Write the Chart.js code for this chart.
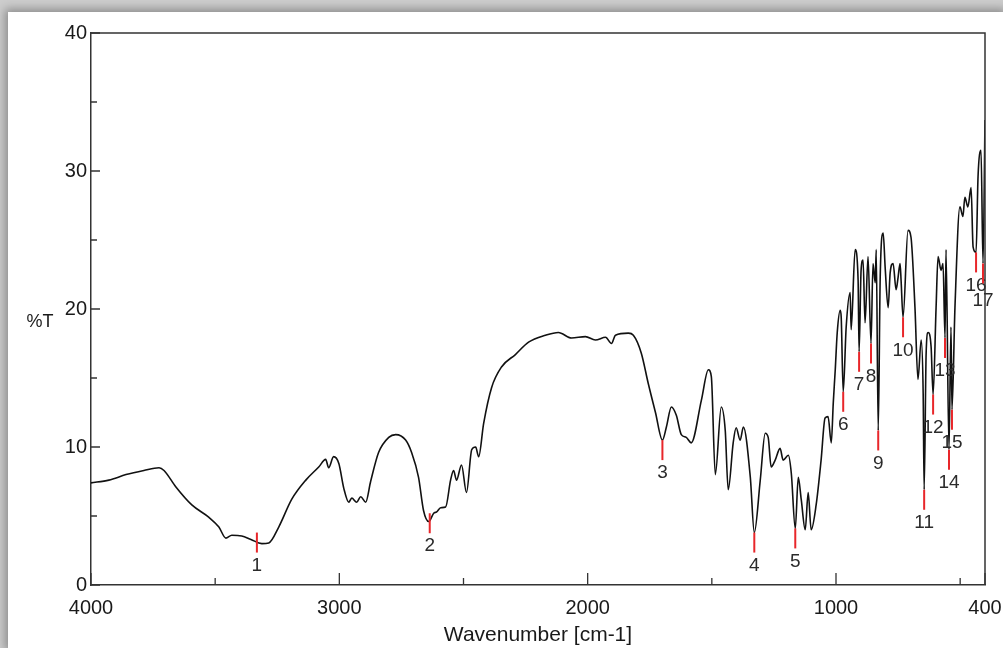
<!DOCTYPE html>
<html>
<head>
<meta charset="utf-8">
<title>IR spectrum</title>
<script src="https://cdn.jsdelivr.net/npm/chart.js@4.4.1/dist/chart.umd.min.js"></script>
<style>
  html, body { margin: 0; padding: 0; width: 1003px; height: 648px; overflow: hidden; background: #cdcdcd; }
  #panel { position: absolute; left: 8px; top: 12px; width: 995px; height: 636px; background: #fff; box-shadow: 0 0 9px 3px rgba(0, 0, 0, 0.32); }
  #wrap { position: absolute; left: 0; top: 0; width: 1003px; height: 648px; }
</style>
</head>
<body>
<div id="panel"></div>
<div id="wrap"><canvas id="irChart" width="1003" height="648"></canvas></div>
<script>
// spectrum (wavenumber in cm-1, %T)
const wavenumber = [
  4000, 3928, 3859, 3787, 3726, 3706, 3658, 3594, 3525, 3485, 3457, 3433, 3393, 3356, 3312, 3284,
  3244, 3192, 3135, 3083, 3055, 3043, 3023, 3002, 2982, 2962, 2950, 2930, 2914, 2894, 2874, 2842,
  2801, 2773, 2733, 2709, 2681, 2661, 2640, 2620, 2608, 2592, 2572, 2552, 2540, 2528, 2508, 2488,
  2467, 2451, 2439, 2419, 2387, 2347, 2291, 2238, 2170, 2118, 2065, 2009, 1969, 1928, 1904, 1888,
  1836, 1816, 1784, 1756, 1727, 1699, 1683, 1663, 1643, 1623, 1603, 1583, 1542, 1514, 1502, 1486,
  1462, 1446, 1434, 1414, 1402, 1386, 1373, 1345, 1329, 1305, 1285, 1273, 1261, 1245, 1225, 1213,
  1192, 1180, 1164, 1152, 1140, 1124, 1112, 1100, 1080, 1060, 1044, 1032, 1019, 1011, 1003, 995,
  983, 979, 971, 959, 943, 939, 923, 911, 907, 899, 891, 883, 871, 859, 851, 842,
  838, 830, 822, 810, 802, 790, 782, 770, 758, 750, 742, 738, 730, 710, 698, 682,
  670, 657, 649, 645, 637, 629, 617, 609, 597, 589, 577, 569, 561, 557, 545, 537,
  533, 521, 501, 489, 481, 469, 456, 448, 436, 428, 416, 408, 400
];
const transmittance = [
  7.4, 7.6, 8.0, 8.3, 8.5, 8.3, 7.1, 5.8, 4.9, 4.2, 3.4, 3.6, 3.55, 3.3, 3.0, 3.05,
  4.2, 6.2, 7.6, 8.55, 9.1, 8.5, 9.3, 8.8, 7.0, 6.0, 6.3, 6.0, 6.4, 6.0, 7.5, 9.6,
  10.7, 10.9, 10.5, 9.6, 7.8, 5.4, 4.6, 5.2, 5.3, 5.6, 5.65, 7.6, 8.3, 7.6, 8.7, 6.7,
  9.8, 10.0, 9.3, 11.7, 14.3, 15.8, 16.7, 17.6, 18.1, 18.3, 17.9, 18.0, 17.75, 17.95, 17.5, 18.1,
  18.25, 18.1, 16.8, 14.6, 12.5, 10.5, 11.45, 12.9, 12.3, 10.9, 10.7, 10.3, 13.4, 15.6, 15.1, 8.0,
  12.9, 11.2, 6.9, 10.3, 11.4, 10.5, 11.45, 7.8, 3.8, 7.6, 11.0, 10.7, 8.55, 9.05, 9.9, 9.05,
  9.4, 8.1, 4.1, 7.8, 6.2, 4.0, 6.7, 4.0, 5.8, 9.05, 12.1, 12.2, 10.3, 13.2, 15.6, 18.3,
  19.9, 19.4, 14.0, 18.7, 21.2, 18.5, 24.3, 22.1, 16.9, 22.8, 23.55, 19.0, 23.8, 17.5, 23.3, 21.9,
  24.3, 11.2, 22.3, 25.5, 23.0, 20.1, 22.6, 23.3, 21.4, 22.3, 23.3, 22.1, 19.4, 25.7, 25.2, 20.1,
  14.9, 17.75, 13.9, 6.9, 16.8, 18.3, 17.25, 13.8, 20.1, 23.8, 22.8, 23.3, 17.9, 24.3, 9.8, 18.7,
  12.7, 20.1, 27.4, 26.7, 28.1, 27.4, 28.8, 24.5, 24.1, 29.6, 31.5, 23.3, 33.7
];

// peak picks: position, top of the red mark (%T), label
const peakWavenumber = [3332, 2636, 1699, 1329, 1164, 971, 907, 859, 830, 730, 645, 609, 561, 545, 533, 436, 408];
const peakMarkTop = [3.8, 5.2, 10.5, 3.8, 4.1, 14.0, 16.9, 17.5, 11.2, 19.4, 6.9, 13.8, 17.9, 9.8, 12.7, 24.1, 23.3];
const peakLabels = ['1', '2', '3', '4', '5', '6', '7', '8', '9', '10', '11', '12', '13', '14', '15', '16', '17'];

// axis ticks
const xMajorTicks = [4000, 3000, 2000, 1000, 400];
const xMinorTicks = [3500, 2500, 1500, 500];
const yMajorTicks = [0, 10, 20, 30, 40];
const yMinorTicks = [5, 15, 25, 35];

const fontFamily = "'Liberation Sans', Arial, Helvetica, sans-serif";

// ticks inside the frame, frame top/right, %T label
const framePlugin = {
  id: 'frame',
  afterDraw(chart) {
    const { ctx, chartArea: a, scales } = chart;
    ctx.save();
    ctx.strokeStyle = '#333';
    ctx.lineWidth = 1.5;
    ctx.beginPath();
    ctx.moveTo(a.left, a.top);
    ctx.lineTo(a.right, a.top);
    ctx.lineTo(a.right, a.bottom);
    ctx.stroke();

    ctx.lineWidth = 1.3;
    ctx.beginPath();
    xMajorTicks.concat(xMinorTicks).forEach(v => {
      const len = xMajorTicks.includes(v) ? 12 : 7;
      const px = scales.x.getPixelForValue(v);
      ctx.moveTo(px, a.bottom);
      ctx.lineTo(px, a.bottom - len);
    });
    yMajorTicks.concat(yMinorTicks).forEach(v => {
      const len = yMajorTicks.includes(v) ? 9 : 6;
      const py = scales.y.getPixelForValue(v);
      ctx.moveTo(a.left, py);
      ctx.lineTo(a.left + len, py);
    });
    ctx.stroke();

    ctx.fillStyle = '#1a1a1a';
    ctx.font = '18px ' + fontFamily;
    ctx.textAlign = 'center';
    ctx.textBaseline = 'middle';
    ctx.fillText('%T', 40, 322);
    ctx.restore();
  }
};

// red peak marks with numbers, pushed down when two numbers would overlap
const peakPlugin = {
  id: 'peaks',
  afterDatasetsDraw(chart) {
    const { ctx, scales } = chart;
    ctx.save();
    ctx.font = '19px ' + fontFamily;
    ctx.textAlign = 'center';
    ctx.textBaseline = 'middle';
    const boxes = [];
    peakWavenumber.forEach((w, i) => {
      const px = scales.x.getPixelForValue(w);
      const top = scales.y.getPixelForValue(peakMarkTop[i]);
      ctx.strokeStyle = '#e8262a';
      ctx.lineWidth = 2;
      ctx.beginPath();
      ctx.moveTo(px, top);
      ctx.lineTo(px, top + 20);
      ctx.stroke();

      const wd = ctx.measureText(peakLabels[i]).width;
      const h = 14;
      let cy = top + 33;
      let moved = true;
      while (moved) {
        moved = false;
        boxes.forEach(b => {
          const overlapX = Math.abs(b.x - px) < (b.w + wd) / 2;
          const overlapY = Math.abs(b.y - cy) < h;
          if (overlapX && overlapY) {
            cy = b.y + h + 1;
            moved = true;
          }
        });
      }
      boxes.push({ x: px, y: cy, w: wd });
      ctx.fillStyle = '#2b2b2b';
      ctx.fillText(peakLabels[i], px, cy);
    });
    ctx.restore();
  }
};

const ctx = document.getElementById('irChart').getContext('2d');
const chart = new Chart(ctx, {
  type: 'scatter',
  data: {
    datasets: [{
      data: wavenumber.map((w, i) => ({ x: w, y: transmittance[i] })),
      showLine: true,
      borderColor: '#111',
      borderWidth: 1.6,
      pointRadius: 0,
      cubicInterpolationMode: 'monotone'
    }]
  },
  options: {
    responsive: false,
    animation: false,
    events: [],
    layout: { padding: { top: 33, right: 18, left: 0, bottom: 0 } },
    plugins: { legend: { display: false }, tooltip: { enabled: false } },
    scales: {
      x: {
        type: 'linear',
        min: 400,
        max: 4000,
        reverse: true,
        afterBuildTicks: s => { s.ticks = xMajorTicks.concat(xMinorTicks).sort((a, b) => b - a).map(v => ({ value: v })); },
        afterFit: s => { s.height = 63; },
        // tick marks are drawn inward by the plugin; tickLength only spaces the labels
        grid: { display: false, drawTicks: true, tickLength: 11 },
        border: { display: true, color: '#333', width: 1.5 },
        ticks: {
          autoSkip: false,
          maxRotation: 0,
          padding: 0,
          color: '#1a1a1a',
          font: { family: fontFamily, size: 20 },
          callback: v => (xMajorTicks.includes(v) ? String(v) : '')
        },
        title: {
          display: true,
          text: 'Wavenumber [cm-1]',
          color: '#1a1a1a',
          font: { family: fontFamily, size: 21 },
          padding: { top: 0, bottom: 0 }
        }
      },
      y: {
        min: 0,
        max: 40,
        afterBuildTicks: s => { s.ticks = yMajorTicks.concat(yMinorTicks).sort((a, b) => a - b).map(v => ({ value: v })); },
        afterFit: s => { s.width = 91; },
        grid: { display: false, drawTicks: false },
        border: { display: true, color: '#333', width: 1.5 },
        ticks: {
          autoSkip: false,
          padding: 4,
          color: '#1a1a1a',
          font: { family: fontFamily, size: 20 },
          callback: v => (yMajorTicks.includes(v) ? String(v) : '')
        }
      }
    }
  },
  plugins: [framePlugin, peakPlugin]
});
</script>
</body>
</html>
